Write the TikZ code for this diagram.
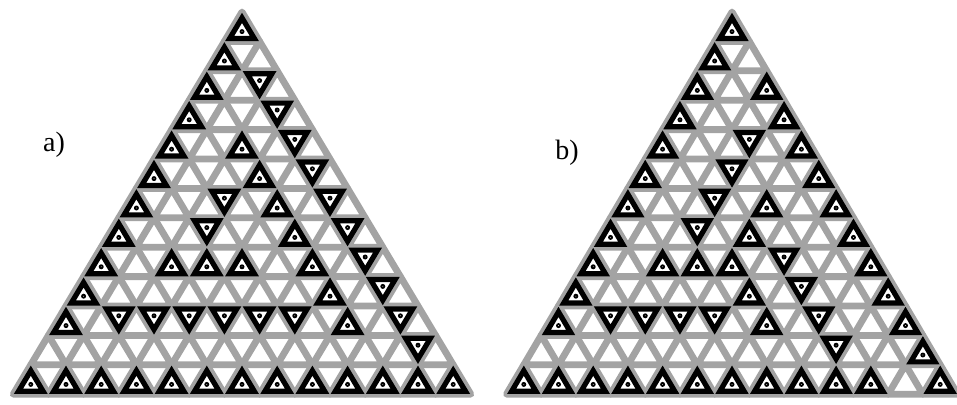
\documentclass[tikz,border=0pt]{standalone}
\usepackage{fontspec}
\setmainfont{Liberation Serif}
\tikzset{
  gridtri/.style={line width=6.8pt,black!36,line join=round},
  hitri/.style={line width=5.2pt,black,line join=miter},
  lbl/.style={font=\fontsize{28}{28}\selectfont,inner sep=0pt}
}
\newcommand\latgrid{%
  \foreach \r in {0,...,12}{\foreach \k in {0,...,\r}{%
    \draw[gridtri] (\k,\r)--(\k,\r+1)--(\k+1,\r+1)--cycle;}}}
\newcommand\dotmark{%
  \fill[black] (0,0) circle[radius=2.5pt];
  \fill[white] (0,0) circle[radius=0.4pt];}
\newcommand\hiup[2]{%
  \begin{scope}[shift={(#2+1/3,#1+2/3)}]
    \draw[hitri,scale=0.7] (-1/3,-2/3)--(-1/3,1/3)--(2/3,1/3)--cycle;
    \dotmark
  \end{scope}}
\newcommand\hidn[2]{%
  \begin{scope}[shift={(#2+2/3,#1+1/3)}]
    \draw[hitri,scale=0.7] (-2/3,-1/3)--(1/3,-1/3)--(1/3,2/3)--cycle;
    \dotmark
  \end{scope}}
\begin{document}
\begin{tikzpicture}[x=1pt,y=-1pt]
\useasboundingbox (0,0) rectangle (957,404);
\begin{scope}[xshift=242pt,yshift=-12pt,x={(35.2pt,0pt)},y={(-17.6pt,-29.4pt)}]
\latgrid
\foreach \r/\k in {0/0,1/0,2/0,3/0,4/0,4/2,5/0,5/3,6/0,6/4,7/0,7/5,
  8/0,8/2,8/3,8/4,8/6,9/0,9/7,10/0,10/8}{\hiup{\r}{\k}}
\foreach \k in {0,...,12}{\hiup{12}{\k}}
\foreach \r/\k in {2/1,3/2,4/3,5/4,6/2,6/5,7/2,7/6,8/7,9/8,
  10/1,10/2,10/3,10/4,10/5,10/6,10/9,11/10}{\hidn{\r}{\k}}
\end{scope}
\begin{scope}[xshift=732pt,yshift=-12pt,x={(34.7pt,0pt)},y={(-17.35pt,-29.4pt)}]
\latgrid
\foreach \r/\k in {0/0,1/0,2/0,2/2,3/0,3/3,4/0,4/4,5/0,5/5,6/0,6/4,6/6,
  7/0,7/4,7/7,8/0,8/2,8/3,8/4,8/8,9/0,9/5,9/9,10/0,10/6,10/10,11/11,12/12}{\hiup{\r}{\k}}
\foreach \k in {0,...,10}{\hiup{12}{\k}}
\foreach \r/\k in {4/2,5/2,6/2,7/2,8/5,9/6,10/1,10/2,10/3,10/4,10/7,11/8}{\hidn{\r}{\k}}
\end{scope}
\node[lbl] (labela) at (54,145) {a)};
\node[lbl] (labelb) at (567,153) {b)};
\end{tikzpicture}
\end{document}
